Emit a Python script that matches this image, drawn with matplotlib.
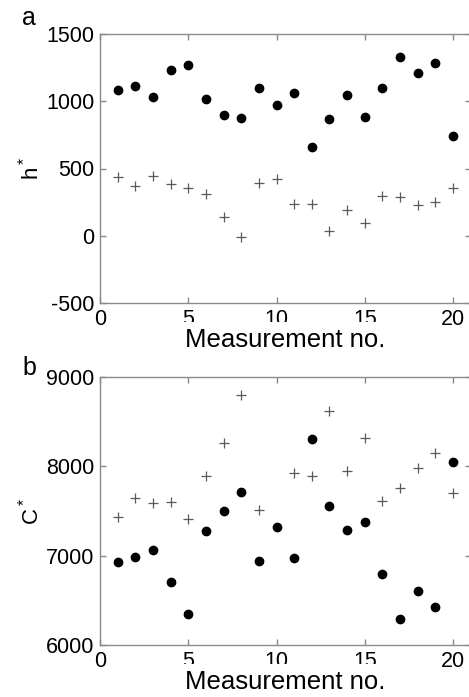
import numpy as np
import matplotlib
matplotlib.use("Agg")
import matplotlib.pyplot as plt

plt.rcParams['font.family'] = ['Liberation Sans', 'DejaVu Sans']
plt.rcParams['mathtext.fontset'] = 'custom'
plt.rcParams['mathtext.rm'] = 'Liberation Sans'
plt.rcParams['axes.unicode_minus'] = False

# measurement numbers
meas = np.arange(1, 21)

# panel a: h*
h_dots = [1085, 1117, 1032, 1229, 1269, 1017, 898, 876, 1100, 973,
          1065, 659, 868, 1045, 881, 1095, 1328, 1209, 1284, 744]
h_plus = [435, 373, 443, 386, 353, 313, 137, -12, 391, 420,
          239, 236, 32, 189, 92, 296, 286, 229, 249, 358]

# panel b: C*
c_dots = [6933, 6985, 7067, 6705, 6350, 7276, 7500, 7710, 6944, 7317,
          6970, 8311, 7560, 7284, 7373, 6798, 6287, 6600, 6425, 8050]
c_plus = [7430, 7642, 7586, 7598, 7415, 7893, 8259, 8804, 7508, np.nan,
          7926, 7893, 8614, 7945, 8318, 7609, 7758, 7986, 8147, 7706]

x_ticks = [0, 5, 10, 15, 20]

W, H = 469, 697
fig = plt.figure(figsize=(W / 100, H / 100), dpi=100)

spine_col = '#8a8a8a'
plus_col = '#5a5a5a'


def make_axes(top_px, bot_px):
    left = 100 / W
    right = (100 + 21 * 17.65) / W
    ax = fig.add_axes([left, 1 - bot_px / H, right - left, (bot_px - top_px) / H])
    for s in ax.spines.values():
        s.set_color(spine_col)
        s.set_linewidth(1.0)
    ax.tick_params(direction='in', length=4, width=1, color=spine_col,
                   top=True, right=True, labelsize=15.5, pad=4)
    ax.set_xlim(0, 21)
    ax.set_xticks(x_ticks)
    return ax


ax1 = make_axes(34, 303)
ax1.plot(meas, h_plus, '+', color=plus_col, ms=7, mew=0.9)
ax1.plot(meas, h_dots, 'o', color='black', ms=6)
ax1.set_ylim(-500, 1500)
ax1.set_yticks([-500, 0, 500, 1000, 1500])
ax1.set_ylabel(r'$\mathregular{h^*}$', fontsize=16, labelpad=2)

ax2 = make_axes(377, 645)
ax2.plot(meas, c_plus, '+', color=plus_col, ms=7, mew=0.9)
ax2.plot(meas, c_dots, 'o', color='black', ms=6)
ax2.set_ylim(6000, 9000)
ax2.set_yticks([6000, 7000, 8000, 9000])
ax2.set_ylabel(r'$\mathregular{C^*}$', fontsize=16, labelpad=2)

# x labels drawn over the tick labels with a white box, as in the original
for base_px in (347, 689):
    fig.text(285 / W, 1 - base_px / H, 'Measurement no.', ha='center',
             va='baseline', fontsize=18.5,
             bbox=dict(facecolor='white', edgecolor='none', pad=4))

fig.text(22 / W, 1 - 25 / H, 'a', fontsize=18, va='baseline')
fig.text(22 / W, 1 - 375 / H, 'b', fontsize=18, va='baseline')

fig.savefig('out.png', dpi=100, facecolor='white')
